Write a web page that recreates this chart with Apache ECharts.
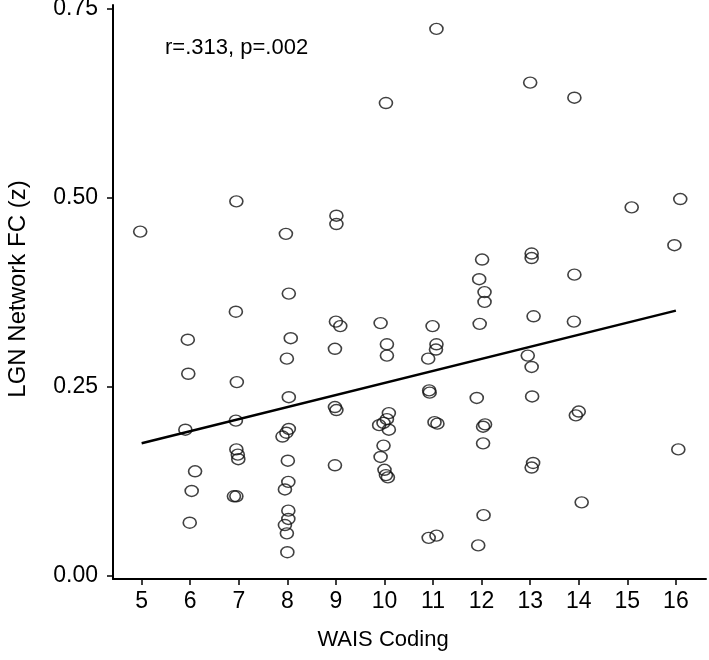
<!DOCTYPE html>
<html>
<head>
<meta charset="utf-8">
<script src="https://cdn.jsdelivr.net/npm/echarts@6/dist/echarts.min.js"></script>
<style>html,body{margin:0;padding:0;background:#fff;}#c{width:709px;height:660px;}</style>
</head>
<body>
<div id="c"></div>
<script>
// WAIS Coding score (with jitter as plotted)
const waisCoding = [
  10.03, 6.95, 4.97, 7.97, 9.01, 9.01, 8.03, 11.07, 13.0, 13.91,
  15.09, 16.09, 15.97, 12.01, 13.03, 13.03, 13.91, 11.95, 12.06, 12.06,
  6.94, 9.0, 9.09, 9.92, 5.95, 8.07, 10.05, 8.98, 10.05, 7.99,
  5.96, 6.96, 8.03, 8.98, 9.01, 10.09, 6.94, 5.9, 10.05, 9.98,
  9.89, 10.09, 8.03, 7.98, 7.9, 6.95, 6.98, 6.99, 9.98, 9.92,
  8.01, 8.98, 6.1, 10.0, 10.03, 10.07, 8.02, 7.95, 6.03, 6.9,
  6.95, 8.02, 8.02, 7.95, 7.99, 5.99, 8.0, 13.07, 13.9, 10.99,
  11.96, 11.07, 11.06, 10.9, 12.95, 13.03, 10.92, 10.93, 13.04, 11.9,
  14.0, 13.94, 11.03, 11.09, 12.07, 12.03, 12.03, 16.05, 13.06, 13.03,
  14.06, 12.04, 10.91, 11.07, 11.93
];
// LGN network functional connectivity (z)
const lgnFC = [
  0.625, 0.495, 0.455, 0.452, 0.476, 0.465, 0.373, 0.723, 0.652, 0.632,
  0.487, 0.498, 0.437, 0.418, 0.426, 0.420, 0.398, 0.392, 0.375, 0.362,
  0.349, 0.336, 0.330, 0.334, 0.312, 0.314, 0.306, 0.300, 0.291, 0.287,
  0.267, 0.256, 0.236, 0.223, 0.219, 0.215, 0.205, 0.193, 0.207, 0.202,
  0.199, 0.193, 0.194, 0.189, 0.184, 0.167, 0.160, 0.154, 0.172, 0.157,
  0.152, 0.146, 0.138, 0.140, 0.133, 0.130, 0.124, 0.114, 0.112, 0.105,
  0.105, 0.086, 0.075, 0.067, 0.056, 0.070, 0.031, 0.343, 0.336, 0.330,
  0.333, 0.306, 0.299, 0.287, 0.291, 0.276, 0.245, 0.242, 0.237, 0.235,
  0.217, 0.212, 0.203, 0.201, 0.200, 0.197, 0.175, 0.167, 0.149, 0.143,
  0.097, 0.080, 0.050, 0.053, 0.040
];
// Fit line endpoints
const fitX = [5, 16];
const fitY = [0.175, 0.3505];
// Tick labels
const xTicks = [5, 6, 7, 8, 9, 10, 11, 12, 13, 14, 15, 16];
const yTicks = [0, 0.25, 0.5, 0.75];
const annotation = 'r=.313, p=.002';
const xTitle = 'WAIS Coding';
const yTitle = 'LGN Network FC (z)';

const points = waisCoding.map((x, i) => [x, lgnFC[i]]);
const fitLine = fitX.map((x, i) => [x, fitY[i]]);
const FONT = '"Liberation Sans", Arial, sans-serif';

const chart = echarts.init(document.getElementById('c'), null, {renderer: 'canvas'});
chart.setOption({
  animation: false,
  backgroundColor: '#fff',
  grid: {left: 113, right: 3, top: 5, bottom: 81, containLabel: false, outerBoundsMode: 'none'},
  xAxis: {
    type: 'value', min: 4.41, max: 16.62,
    splitLine: {show: false},
    axisLine: {show: true, onZero: false, lineStyle: {color: '#000', width: 2}},
    axisTick: {show: true, length: 6, lineStyle: {color: '#000', width: 1.5}, customValues: xTicks},
    axisLabel: {color: '#000', fontSize: 23, fontFamily: FONT, margin: 11, customValues: xTicks,
      formatter: v => String(Math.round(v))}
  },
  yAxis: {
    type: 'value', min: -0.0044, max: 0.7546,
    splitLine: {show: false},
    axisLine: {show: true, onZero: false, lineStyle: {color: '#000', width: 2}},
    axisTick: {show: true, length: 6, lineStyle: {color: '#000', width: 1.5}, customValues: yTicks},
    axisLabel: {color: '#000', fontSize: 23, fontFamily: FONT, margin: 15, customValues: yTicks,
      formatter: v => v.toFixed(2)}
  },
  series: [
    {
      type: 'scatter', data: points, symbol: 'circle', symbolSize: [13, 11],
      itemStyle: {color: 'rgba(0,0,0,0)', borderColor: '#111', borderWidth: 1.5},
      z: 3
    },
    {
      type: 'line', data: fitLine, symbol: 'none',
      lineStyle: {color: '#000', width: 2.5}, z: 4
    }
  ],
  graphic: [
    {type: 'text', left: 165, top: 37, style: {text: annotation, fontSize: 22, fontFamily: FONT, fill: '#000'}},
    {type: 'text', x: 383, y: 640, style: {text: xTitle, fontSize: 22, fontFamily: FONT, fill: '#000', align: 'center', verticalAlign: 'middle'}},
    {type: 'text', x: 18, y: 289, rotation: Math.PI / 2, style: {text: yTitle, fontSize: 24, fontFamily: FONT, fill: '#000', align: 'center', verticalAlign: 'middle'}}
  ]
});
</script>
</body>
</html>
